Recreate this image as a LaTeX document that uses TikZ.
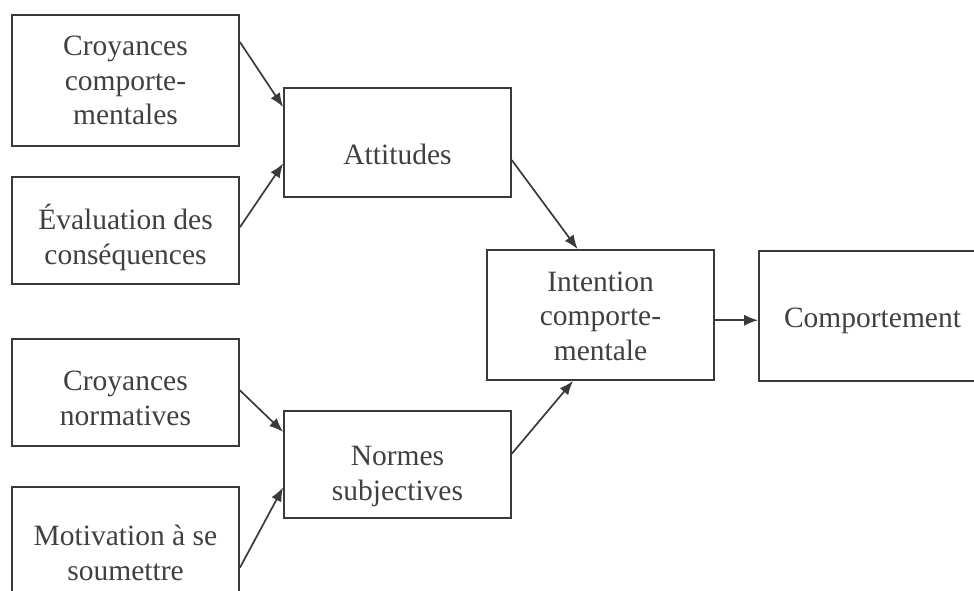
\documentclass[tikz,border=0pt]{standalone}
\usepackage{fontspec}
\setmainfont{Liberation Serif}
\usetikzlibrary{arrows.meta,calc}
\definecolor{ink}{HTML}{3A3A3A}
\definecolor{txt}{HTML}{404040}
\tikzset{
  box/.style={draw=ink, line width=0.9pt, rectangle, minimum width=113.5pt,
    inner sep=0pt},
  tx/.style={align=center, text=txt, inner sep=0pt,
    font=\fontsize{14.75}{17.3}\selectfont},
  link/.style={draw=ink, line width=0.85pt,
    -{Latex[length=7pt,width=5.5pt]}}
}
\begin{document}
\begin{tikzpicture}[x=0.5pt,y=-0.5pt]
  \useasboundingbox (0,0) rectangle (974,590);
  \clip (0,0) rectangle (974,590);
  % source factors
  \node[box, minimum height=65.5pt,
    label={[tx]center:Croyances\\comporte-\\mentales}] (b1) at (125.5,80.5) {};
  \node[box, minimum height=53.5pt,
    label={[tx, yshift=-3.5pt]center:Évaluation des\\conséquences}] (b2) at (125.5,230.5) {};
  \node[box, minimum height=53.5pt,
    label={[tx, yshift=-3pt]center:Croyances\\normatives}] (b3) at (125.5,392.5) {};
  \node[box, minimum height=66pt,
    label={[tx]center:Motivation à se\\soumettre}] (b4) at (125.5,553) {};
  % intermediate constructs
  \node[box, minimum height=54.5pt,
    label={[tx, yshift=-6pt]center:Attitudes}] (att) at (397.5,142.5) {};
  \node[box, minimum height=53.5pt,
    label={[tx, yshift=-6pt]center:Normes\\subjectives}] (nor) at (397.5,464.5) {};
  % intention and behaviour
  \node[box, minimum height=65pt,
    label={[tx, yshift=-0.5pt]center:Intention\\comporte-\\mentale}] (int) at (600.5,315) {};
  \node[box, minimum height=65pt,
    label={[tx, yshift=-2.5pt]center:Comportement}] (com) at (872.5,316) {};
  % connectors
  \draw[link] ($(b1.north east)!0.21!(b1.south east)$) -- ($(att.north west)!0.18!(att.south west)$);
  \draw[link] ($(b2.north east)!0.47!(b2.south east)$) -- ($(att.north west)!0.69!(att.south west)$);
  \draw[link] ($(b3.north east)!0.48!(b3.south east)$) -- ($(nor.north west)!0.20!(nor.south west)$);
  \draw[link] ($(b4.north east)!0.61!(b4.south east)$) -- ($(nor.north west)!0.71!(nor.south west)$);
  \draw[link] ($(att.north east)!0.66!(att.south east)$) -- ($(int.north west)!0.40!(int.north east)$);
  \draw[link] ($(nor.north east)!0.40!(nor.south east)$) -- ($(int.south west)!0.38!(int.south east)$);
  \coordinate (io) at ($(int.north east)!0.54!(int.south east)$);
  \draw[link] (io) -- (io -| com.west);
\end{tikzpicture}
\end{document}
